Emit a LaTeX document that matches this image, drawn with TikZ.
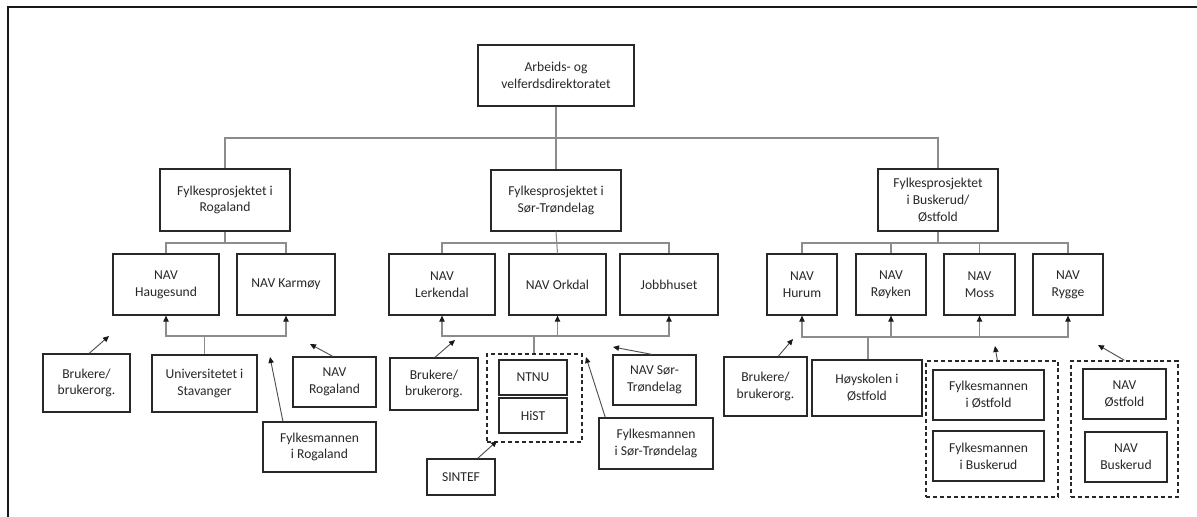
\documentclass[tikz,border=0pt]{standalone}
\usepackage{fontspec}
\setmainfont{Carlito}
\usetikzlibrary{arrows.meta,calc}
\definecolor{txt}{RGB}{40,40,40}
\definecolor{brd}{RGB}{40,40,40}
\definecolor{tre}{RGB}{140,140,140}
\definecolor{arw}{RGB}{80,80,80}
\tikzset{
  box/.style={draw=brd, line width=0.9pt, align=center, inner sep=0pt, text=txt,
    font=\fontsize{10.2}{12.6}\selectfont},
  dbox/.style={draw=brd, line width=1pt, dash pattern=on 3pt off 2.2pt, inner sep=0pt},
  tree/.style={draw=tre, line width=0.8pt},
  tip/.style={-{Triangle[length=4.5pt,width=4pt,color=black!90]}},
  bus/.style={draw=tre, line width=0.8pt, tip},
  farr/.style={draw=arw, line width=0.7pt, tip},
}
\newcommand{\bx}[7][box]{\node[#1, minimum width={(#5-#3)*0.75pt}, minimum height={(#6-#4)*0.75pt}] (#2) at ({(#3+#5)/2},{(#4+#6)/2}) {#7};}
\begin{document}
\begin{tikzpicture}[x=0.75pt,y=-0.75pt]
\useasboundingbox (0,0) rectangle (1197,517);
\fill[white] (0,0) rectangle (1197,517);
\draw[line width=1.5pt, black!90] (7.5,517) -- (7.5,7.5) -- (1197,7.5);
% top
\bx{top}{478}{45}{634}{106}{Arbeids- og\\velferdsdirektoratet}
% level 1
\bx{fr}{160}{169}{290}{231}{Fylkesprosjektet i\\Rogaland}
\bx{fst}{491}{170}{621}{231}{Fylkesprosjektet i\\Sør-Trøndelag}
\bx{fbo}{878}{169}{998}{231}{Fylkesprosjektet\\i Buskerud/\\Østfold}
% level 2
\bx{hau}{113}{254}{219}{315}{NAV\\Haugesund}
\bx{kar}{237}{254}{335}{315}{NAV Karmøy}
\bx{ler}{389}{254}{495}{315}{NAV\\Lerkendal}
\bx{ork}{509}{254}{606}{315}{NAV Orkdal}
\bx{job}{620}{254}{718}{315}{Jobbhuset}
\bx{hur}{767}{254}{837}{315}{NAV\\Hurum}
\bx{roy}{856}{254}{926}{315}{NAV\\Røyken}
\bx{mos}{944}{254}{1015}{315}{NAV\\Moss}
\bx{ryg}{1033}{254}{1103}{315}{NAV\\Rygge}
% lower boxes, Rogaland
\bx{bru1}{43}{354}{130}{412}{Brukere/\\brukerorg.}
\bx{usv}{152}{355}{257}{412}{Universitetet i\\Stavanger}
\bx{nrog}{293}{357}{376}{407}{NAV\\Rogaland}
\bx{fmr}{263}{422}{376}{472}{Fylkesmannen\\i Rogaland}
% Sør-Trøndelag
\bx{bru2}{390}{358}{478}{410}{Brukere/\\brukerorg.}
\bx[dbox]{d1}{487}{354}{582}{442}{}
\bx{ntnu}{499}{360}{567}{395}{NTNU}
\bx{hist}{499}{398}{567}{433}{HiST}
\bx{sintef}{427}{459}{495}{495}{SINTEF}
\bx{nst}{613}{355}{696}{405}{NAV Sør-\\Trøndelag}
\bx{fmst}{599}{418}{713}{469}{Fylkesmannen\\i Sør-Trøndelag}
% Buskerud/Østfold
\bx{bru3}{724}{357}{807}{416}{Brukere/\\brukerorg.}
\bx{hio}{812}{360}{922}{416}{Høyskolen i\\Østfold}
\bx[dbox]{d2}{926}{361}{1058}{497}{}
\bx{fmo}{933}{370}{1044}{420}{Fylkesmannen\\i Østfold}
\bx{fmb}{933}{431}{1044}{481}{Fylkesmannen\\i Buskerud}
\bx[dbox]{d3}{1071}{361}{1178}{497}{}
\bx{nost}{1083}{369}{1166}{419}{NAV\\Østfold}
\bx{nbus}{1085}{432}{1167}{482}{NAV\\Buskerud}
% tree connectors
\coordinate (hl) at (556,138);
\draw[tree] (top.south) -- (fst.north);
\draw[tree] (fr.north) |- (hl) -| (fbo.north);
\coordinate (b1) at (225,243);
\coordinate (b2) at (556,243);
\coordinate (b3) at (938,243);
\draw[tree] (fr.south) -- (b1);
\draw[tree] (hau.north) |- (b1) -| (kar.north);
\draw[tree] (fst.south) -- (ork.north);
\draw[tree] (ler.north) |- (b2) -| (job.north);
\draw[tree] (fbo.south) -- (b3);
\draw[tree] (hur.north) |- (b3) -| (ryg.north);
\draw[tree] (roy.north) -- (roy.north |- b3);
\draw[tree] (mos.north) -- (mos.north |- b3);
% arrow buses
\coordinate (a1) at (204.5,336);
\coordinate (a2) at (534,336);
\coordinate (a3) at (868,337);
\draw[tree] (usv.north) -- (a1);
\draw[bus] (a1) -| (hau.south);
\draw[bus] (a1) -| (kar.south);
\draw[tree] (d1.north -| a2) -- (a2);
\draw[bus] (a2) -| (ler.south);
\draw[bus] (a2) -| (ork.south);
\draw[bus] (a2) -| (job.south);
\draw[tree] (hio.north -| a3) -- (a3);
\draw[bus] (a3) -| (hur.south);
\draw[bus] (a3) -| (roy.south);
\draw[bus] (a3) -| (mos.south);
\draw[bus] (a3) -| (ryg.south);
% free arrows
\coordinate (e1) at (109,336);
\coordinate (e2) at (310,344);
\coordinate (e3) at (270,357);
\coordinate (e4) at (455,340);
\coordinate (e5) at (497,441);
\coordinate (e6) at (613,347);
\coordinate (e7) at (586,357);
\coordinate (e8) at (793,339);
\coordinate (e9) at (995,346);
\coordinate (e10) at (1098,345);
\draw[farr] ($(bru1.north west)!0.53!(bru1.north east)$) -- (e1);
\draw[farr] ($(nrog.north west)!0.48!(nrog.north east)$) -- (e2);
\draw[farr] ($(fmr.north west)!0.18!(fmr.north east)$) -- (e3);
\draw[farr] ($(bru2.north west)!0.51!(bru2.north east)$) -- (e4);
\draw[farr] ($(sintef.north west)!0.74!(sintef.north east)$) -- (e5);
\draw[farr] ($(nst.north west)!0.47!(nst.north east)$) -- (e6);
\draw[farr] ($(fmst.north west)!0.06!(fmst.north east)$) -- (e7);
\draw[farr] ($(bru3.north west)!0.65!(bru3.north east)$) -- (e8);
\draw[farr] ($(d2.north west)!0.54!(d2.north east)$) -- (e9);
\draw[farr] ($(d3.north west)!0.5!(d3.north east)$) -- (e10);
\end{tikzpicture}
\end{document}
